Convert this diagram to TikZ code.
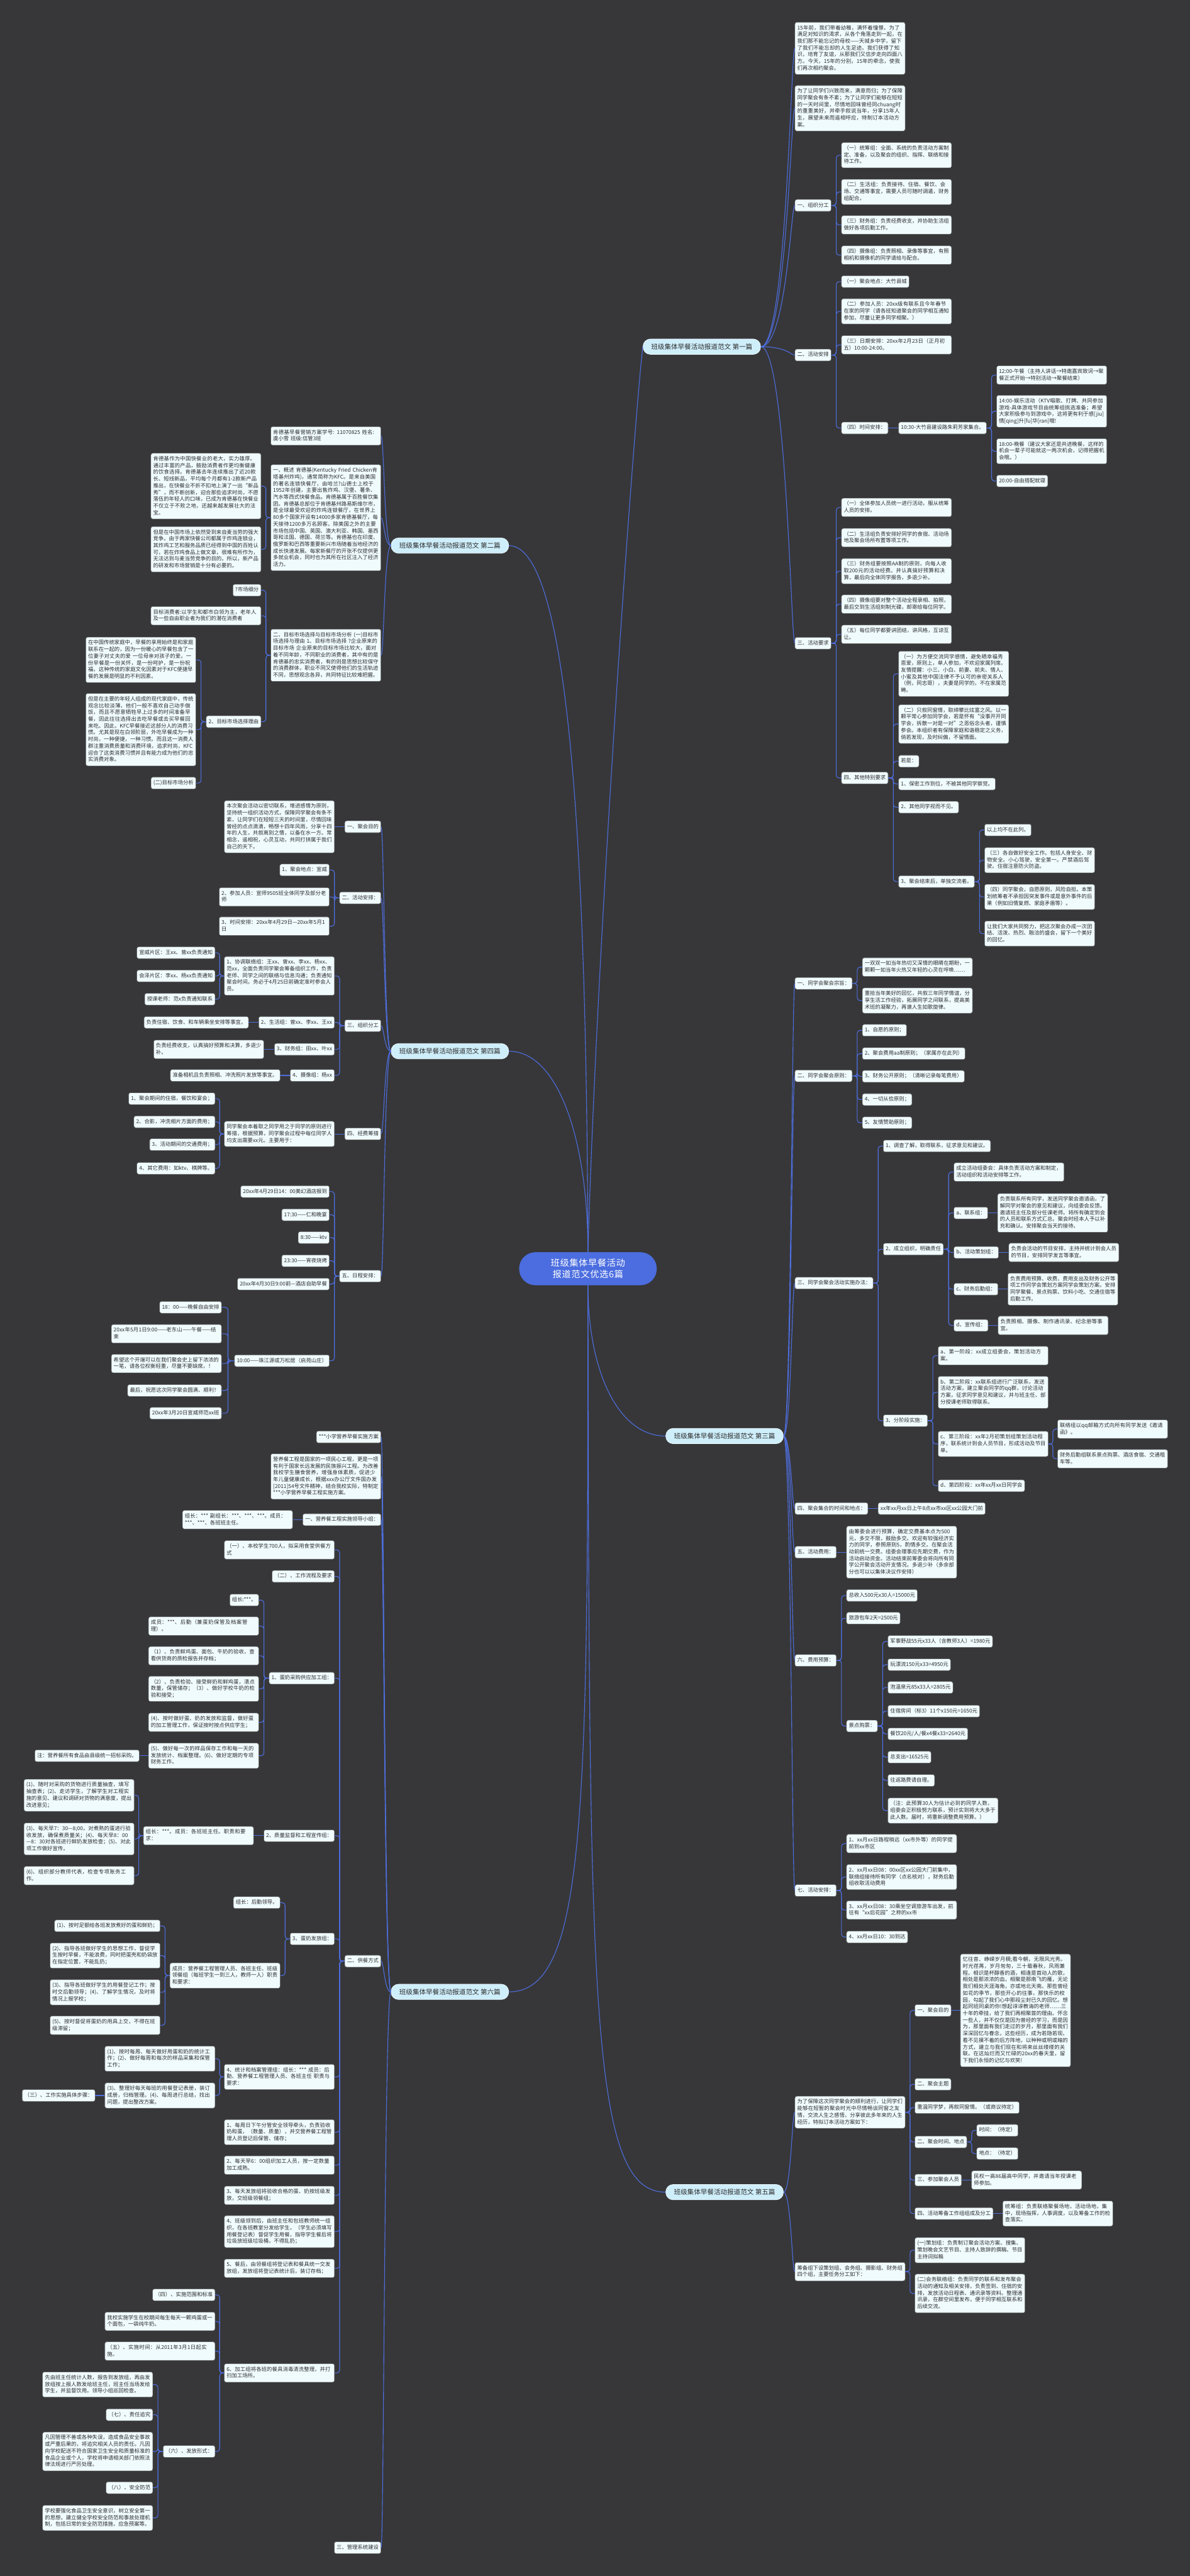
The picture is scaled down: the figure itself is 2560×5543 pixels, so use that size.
\documentclass[tikz,border=0pt]{standalone}
\usepackage{fontspec}
\setmainfont{Noto Sans CJK SC}
\usetikzlibrary{calc}
\XeTeXlinebreaklocale "zh"
\XeTeXlinebreakskip=0pt plus 1pt
\definecolor{bgc}{RGB}{55,55,57}
\definecolor{leafc}{RGB}{240,251,254}
\definecolor{leafd}{RGB}{95,95,95}
\definecolor{txt}{RGB}{45,45,45}
\definecolor{linkc}{RGB}{78,110,222}
\definecolor{mainf}{RGB}{206,238,250}
\definecolor{rootc}{RGB}{75,109,224}
\newcommand\lf{\fontsize{11.3}{14.5}\selectfont}
\newcommand\sth{\rule{0pt}{10pt}}
\newcommand\std{\rule[-3.5pt]{0pt}{3.5pt}}
\tikzset{
 leaf/.style={draw=leafd, line width=0.8pt, fill=leafc, rounded corners=4pt, inner xsep=5pt, inner ysep=6pt, text=txt, font=\lf, align=left, execute at begin node=\sth, execute at end node=\std},
 rn/.style={leaf, anchor=west},
 ln/.style={leaf, anchor=east},
 wd/.style={text width=227pt},
 pill/.style={fill=mainf, draw=white!60!mainf, line width=1pt, rounded corners=16pt, minimum height=33pt, minimum width=253pt, inner sep=0pt, text=txt, font=\fontsize{14.3}{17}\selectfont},
 rootn/.style={fill=rootc, rounded corners=35pt, minimum width=296pt, minimum height=71pt, text width=222pt, align=center, text=white, font=\fontsize{19.3}{24}\selectfont},
 link/.style={draw=linkc, line width=1.5pt, rounded corners=6pt},
}
\newcommand\linkR[2]{\draw[link] (#1.east) -| ($(#1.east)!0.5!(#2.west)$) |- (#2.west);}
\newcommand\linkL[2]{\draw[link] (#1.west) -| ($(#1.west)!0.5!(#2.east)$) |- (#2.east);}
\newcommand\linkS[2]{\draw[link] (#1.east) -- (#2.west);}
\newcommand\linkSL[2]{\draw[link] (#1.west) -- (#2.east);}
\newcommand\curveR[4]{\draw[link] (#1.east) .. controls +(#3,0) and +(-#4,0) .. (#2.west);}
\newcommand\curveL[4]{\draw[link] (#1.west) .. controls +(-#3,0) and +(#4,0) .. (#2.east);}
\begin{document}
\begin{tikzpicture}[x=1pt,y=1pt]
\fill[bgc] (0,0) rectangle (2560,-5543);
\useasboundingbox (0,0) rectangle (2560,-5543);

% ---------- root and main branches ----------
\node[rootn] (root) at (1265,-2730) {班级集体早餐活动报道范文优选6篇};
\node[pill] (p1) at (1510,-746) {班级集体早餐活动报道范文 第一篇};
\node[pill] (p2) at (968,-1174) {班级集体早餐活动报道范文 第二篇};
\node[pill] (p3) at (1559,-3090) {班级集体早餐活动报道范文 第三篇};
\node[pill] (p4) at (968,-2262) {班级集体早餐活动报道范文 第四篇};
\node[pill] (p5) at (1559,-4717) {班级集体早餐活动报道范文 第五篇};
\node[pill] (p6) at (968,-4286) {班级集体早餐活动报道范文 第六篇};

% ---------- 第一篇 ----------
\node[rn,wd] (a1) at (1710,-104) {15年前，我们带着幼稚，满怀着憧憬，为了满足对知识的渴求，从各个角落走到一起，在我们那不能忘记的母校——天城乡中学，留下了我们不能忘却的人生足迹。我们获得了知识，培育了友谊，从那我们又信步走向四面八方。今天，15年的分别，15年的牵念，使我们再次相约聚会。};
\node[rn,wd] (a2) at (1710,-233) {为了让同学们兴致而来，满意而归；为了保障同学聚会有条不紊；为了让同学们能够在短短的一天时间里，尽情地回味曾经同chuang时的重重美好，并牵手叙说当年，分享15年人生，展望未来而遥相呼应，特制订本活动方案。};
\node[rn] (a3) at (1710,-442) {一、组织分工};
\node[rn,wd] (a31) at (1810,-334) {（一）统筹组：全面、系统的负责活动方案制定、准备，以及聚会的组织、指挥、联络和接待工作。};
\node[rn,wd] (a32) at (1810,-413) {（二）生活组：负责接待、住宿、餐饮、会场、交通等事宜，需要人员可随时调遣，财务组配合。};
\node[rn,wd] (a33) at (1810,-484) {（三）财务组：负责经费收支，并协助生活组做好各项后勤工作。};
\node[rn,wd] (a34) at (1810,-549) {（四）摄像组：负责照相、录像等事宜，有照相机和摄像机的同学请给与配合。};
\node[rn] (a4) at (1710,-764) {二、活动安排};
\node[rn] (a41) at (1810,-606) {（一）聚会地点：大竹县城};
\node[rn,wd] (a42) at (1810,-670) {（二）参加人员：20xx级有联系且今年春节在家的同学（请各班知道聚会的同学相互通知参加，尽量让更多同学相聚。）};
\node[rn,wd] (a43) at (1810,-742) {（三）日期安排：20xx年2月23日（正月初五）10:00-24:00。};
\node[rn] (a44) at (1810,-921) {（四）时间安排：};
\node[rn] (a45) at (1933,-921) {10:30-大竹县建设路朱莉芳家集合。};
\node[rn,wd] (a451) at (2144,-807) {12:00-午餐（主持人讲话→特邀嘉宾致词→聚餐正式开始→特别活动→聚餐结束）};
\node[rn,wd] (a452) at (2144,-885) {14:00-娱乐活动（KTV唱歌、打牌、共同参加游戏-具体游戏节目由统筹组挑选准备；希望大家积极参与到游戏中，这将更有利于感[jiu]情[qing]升[fu]华[ran]哦!};
\node[rn,wd] (a453) at (2144,-971) {18:00-晚餐（建议大家还是共进晚餐，这样的机会一辈子可能就这一两次机会，记得把握机会哦。）};
\node[rn] (a454) at (2144,-1035) {20:00-自由搭配就寝};
\node[rn] (a5) at (1710,-1384) {三、活动要求};
\node[rn,wd] (a51) at (1810,-1092) {（一）全体参加人员统一进行活动，服从统筹人员的安排。};
\node[rn,wd] (a52) at (1810,-1157) {（二）生活组负责安排好同学的食宿、活动场地及聚会场所布置等项工作。};
\node[rn,wd] (a53) at (1810,-1229) {（三）财务组要按照AA制的原则，向每人收取200元的活动经费。并认真搞好预算和决算，最后向全体同学报告，多退少补。};
\node[rn,wd] (a54) at (1810,-1300) {（四）摄像组要对整个活动全程录相、拍照，最后交到生活组刻制光碟，邮寄给每位同学。};
\node[rn,wd] (a55) at (1810,-1365) {（五）每位同学都要讲团结，讲风格，互谅互让。};
\node[rn] (a56) at (1810,-1674) {四、其他特别要求};
\node[rn,wd] (a561) at (1933,-1450) {（一）为方便交流同学感情，避免晒幸福秀恩爱，原则上，单人参加，不欢迎家属列席。友情提醒：小三、小白、前妻、前夫、情人、小蜜及其他中国法律不予认可的亲密关系人（例，同志哥），夫妻是同学的，不在家属范畴。};
\node[rn,wd] (a562) at (1933,-1558) {（二）只叙同窗情，取缔攀比炫富之风。以一颗平常心参加同学会，若是怀有“没事开开同学会，拆散一对是一对”之恶俗念头者，谨慎参会。本组织者有保障家庭和谐稳定之义务，倘若发现，及时纠偏，不留情面。};
\node[rn] (a563) at (1933,-1638) {若是：};
\node[rn] (a564) at (1933,-1687) {1、保密工作到位，不被其他同学察觉。};
\node[rn] (a565) at (1933,-1737) {2、其他同学视而不见。};
\node[rn] (a566) at (1933,-1897) {3、聚会结束后，单独交流者。};
\node[rn] (a5661) at (2118,-1786) {以上均不在此列。};
\node[rn,wd] (a5662) at (2118,-1851) {（三）各自做好安全工作。包括人身安全、财物安全。小心驾驶，安全第一。严禁酒后驾驶。住宿注意防火防盗。};
\node[rn,wd] (a5663) at (2118,-1930) {（四）同学聚会，自愿原则，风险自担。本策划统筹者不承担因突发事件或是意外事件的后果（例如旧情复燃、家庭矛盾等）。};
\node[rn,wd] (a5664) at (2118,-2009) {让我们大家共同努力，把这次聚会办成一次团结、活泼、热烈、融洽的盛会，留下一个美好的回忆。};

% ---------- 第三篇 ----------
\node[rn] (b1) at (1710,-2116) {一、同学会聚会宗旨：};
\node[rn,wd] (b11) at (1855,-2081) {一双双一如当年热切又深情的眼睛在期盼，一颗颗一如当年火热又年轻的心灵在呼唤……};
\node[rn,wd] (b12) at (1855,-2153) {重拾当年美好的回忆，共叙三年同学情谊，分享生活工作经验，拓展同学之间联系，提高美术班的凝聚力，再谱人生如歌旋律。};
\node[rn] (b2) at (1710,-2315) {二、同学会聚会原则：};
\node[rn] (b21) at (1855,-2217) {1、自愿的原则；};
\node[rn] (b22) at (1855,-2267) {2、聚会费用aa制原则；（家属亦在此列）};
\node[rn] (b23) at (1855,-2316) {3、财务公开原则；（清晰记录每笔费用）};
\node[rn] (b24) at (1855,-2366) {4、一切从俭原则；};
\node[rn] (b25) at (1855,-2416) {5、友情赞助原则；};
\node[rn] (b3) at (1710,-2761) {三、同学会聚会活动实施办法：};
\node[rn] (b31) at (1900,-2466) {1、调查了解，取得联系，征求意见和建议。};
\node[rn] (b32) at (1900,-2688) {2、成立组织，明确责任};
\node[rn,wd] (b321) at (2052,-2522) {成立活动组委会：具体负责活动方案和制定，活动组织和活动安排等工作。};
\node[rn] (b322) at (2052,-2610) {a、联系组：};
\node[rn,wd] (b3221) at (2146,-2610) {负责联系所有同学，发送同学聚会邀请函，了解同学对聚会的意见和建议，向组委会反馈。邀请班主任及部分任课老师。将所有确定到会的人员和联系方式汇总。聚会时经本人予以补充和确认。安排聚会当天的接待。};
\node[rn] (b323) at (2052,-2695) {b、活动策划组：};
\node[rn,wd] (b3231) at (2170,-2695) {负责会活动的节目安排，主持并统计到会人员的节目，安排同学发言等事宜。};
\node[rn] (b324) at (2052,-2774) {c、财务后勤组：};
\node[rn,wd] (b3241) at (2168,-2774) {负责费用预算、收费、费用支出及财务公开等项工作同学会策划方案同学会策划方案。安排同学聚餐、景点购票、饮料小吃、交通住宿等后勤工作。};
\node[rn] (b325) at (2052,-2852) {d、宣传组：};
\node[rn,wd] (b3251) at (2147,-2852) {负责照相、摄像、制作通讯录、纪念册等事宜。};
\node[rn] (b33) at (1900,-3057) {3、分阶段实施：};
\node[rn,wd] (b331) at (2018,-2917) {a、第一阶段：xx成立组委会，策划活动方案。};
\node[rn,wd] (b332) at (2018,-2996) {b、第二阶段：xx联系组进行广泛联系，发送活动方案，建立聚会同学的qq群，讨论活动方案，征求同学意见和建议，并与班主任、部分授课老师取得联系。};
\node[rn,wd] (b333) at (2018,-3107) {c、第三阶段：xx年2月初策划组策划活动程序，联系统计到会人员节目，形成活动及节目单。};
\node[rn,wd] (b3331) at (2275,-3075) {联络组以qq邮箱方式向所有同学发送《邀请函》。};
\node[rn,wd] (b3332) at (2275,-3139) {财务后勤组联系景点购票、酒店食宿、交通租车等。};
\node[rn] (b334) at (2018,-3197) {d、第四阶段：xx年xx月xx日同学会};
\node[rn] (b4) at (1710,-3246) {四、聚会集合的时间和地点：};
\node[rn] (b41) at (1889,-3246) {xx年xx月xx日上午8点xx市xx区xx公园大门前};
\node[rn] (b5) at (1710,-3340) {五、活动费用：};
\node[rn,wd] (b51) at (1821,-3340) {由筹委会进行预算，确定交费基本点为500元，多交不限，鼓励多交。欢迎有较强经济实力的同学，参照原则5，酌情多交。在聚会活动前统一交费。组委会理事应先期交费，作为活动启动资金。活动结束前筹委会将向所有同学公开聚会活动开支情况。多退少补（多余部分也可以以集体决议作安排）};
\node[rn] (b6) at (1710,-3573) {六、费用预算：};
\node[rn] (b61) at (1821,-3433) {总收入500元x30人=15000元};
\node[rn] (b62) at (1821,-3482) {旅游包车2天=2500元};
\node[rn] (b63) at (1821,-3714) {景点购票：};
\node[rn] (b631) at (1910,-3532) {军事野战55元x33人（含教师3人）=1980元};
\node[rn] (b632) at (1910,-3582) {玩漂流150元x33=4950元};
\node[rn] (b633) at (1910,-3631) {泡温泉元85x33人=2805元};
\node[rn] (b634) at (1910,-3682) {住宿房间（标3）11个x150元=1650元};
\node[rn] (b635) at (1910,-3731) {餐饮20元/人/餐x4餐x33=2640元};
\node[rn] (b636) at (1910,-3781) {总支出=16525元};
\node[rn] (b637) at (1910,-3831) {往返路费请自理。};
\node[rn,wd] (b638) at (1910,-3896) {（注：此预算30人为估计必到的同学人数，组委会正积极努力联系，预计实到将大大多于此人数。届时，将重新调整费用预算。）};
\node[rn] (b7) at (1710,-4068) {七、活动安排：};
\node[rn,wd] (b71) at (1821,-3967) {1、xx月xx日路程稍远（xx市外等）的同学提前到xx市区};
\node[rn,wd] (b72) at (1821,-4039) {2、xx月xx日08：00xx区xx公园大门前集中，联络组接待所有同学（点名核对），财务后勤组收取活动费用};
\node[rn,wd] (b73) at (1821,-4110) {3、xx月xx日08：30乘坐空调旅游车出发，前往有“xx后花园”之称的xx市};
\node[rn] (b74) at (1821,-4168) {4、xx月xx日10：30到达};

% ---------- 第五篇 ----------
\node[rn,wd] (c1) at (1710,-4545) {为了保障这次同学聚会的顺利进行，让同学们能够在短暂的聚会时光中尽情畅谈同窗之友情，交流人生之感悟，分享彼此多年来的人生经历，特拟订本活动方案如下：};
\node[rn] (c11) at (1968,-4326) {一、聚会目的};
\node[rn,wd] (c111) at (2066,-4326) {忆往昔、峥嵘岁月稠;看今朝，无限风光秀。时光荏苒，岁月匆匆，三十载春秋，风雨兼程。相识是杯醇香的酒，相逢是首动人的歌，相处是那浓浓的血，相聚是那南飞的雁，无论我们相处天涯海角，亦或地北天南。那些曾经如花的季节，那些开心的往事，那快乐的校园，勾起了我们心中那段尘封已久的回忆。想起同班同桌的你!想起谆谆教诲的老师……三十年的牵挂，给了我们再相聚首的理由。怀念一些人，并不仅仅是因为曾经的学习，而是因为，那里面有我们走过的岁月，那里面有我们深深回忆与眷念，这些经历，成为若隐若现、看不见摸不着的后方阵地，以种种或明或暗的方式，建立与我们现在和将来丝丝缕缕的关联。在这灿烂而又忙碌的20xx的春天里，留下我们永恒的记忆与欢笑!};
\node[rn] (c12) at (1968,-4485) {二、聚会主题};
\node[rn] (c13) at (1968,-4535) {重温同学梦，再叙同窗情。（或商议待定）};
\node[rn] (c14) at (1968,-4609) {二、聚会时间、地点};
\node[rn] (c141) at (2101,-4584) {时间：（待定）};
\node[rn] (c142) at (2101,-4634) {地点：（待定）};
\node[rn] (c15) at (1968,-4691) {三、参加聚会人员};
\node[rn,wd] (c151) at (2090,-4691) {民权一高86届高中同学，并邀请当年授课老师参加。};
\node[rn] (c16) at (1968,-4763) {四、活动筹备工作组组成及分工};
\node[rn,wd] (c161) at (2157,-4763) {统筹组：负责联络聚餐场地，活动场地，集中，现场指挥，人事调度，以及筹备工作的检查落实。};
\node[rn,wd] (c2) at (1710,-4888) {筹备组下设策划组、会务组、摄影组、财务组四个组，主要任务分工如下：};
\node[rn,wd] (c21) at (1968,-4842) {(一)策划组：负责制订聚会活动方案、搜集、策划晚会文艺节目、主持人致辞的撰稿、节目主持词拟稿};
\node[rn,wd] (c22) at (1968,-4935) {(二)会务联络组：负责同学的联系和发布聚会活动的通知及相关安排，负责签到、住宿的安排，发放活动日程表、通讯录等资料。整理通讯录，在群空间里发布，便于同学相互联系和后续交流。};

% ---------- 第二篇 ----------
\node[ln,wd] (d1) at (820,-938) {肯德基早餐营销方案学号: 11070825 姓名: 虞小雪 班级:信管3班};
\node[ln,wd] (d2) at (820,-1114) {一、概述 肯德基(Kentucky Fried Chicken肯塔基州炸鸡)，通常简称为KFC。是来自美国的著名连锁快餐厅，由哈兰?山德士上校于1952年创建，主要出售炸鸡、汉堡、薯条、汽水等西式快餐食品。肯德基属于百胜餐饮集团。肯德基总部位于肯德基州路易斯维尔市，是全球最受欢迎的炸鸡连锁餐厅，在世界上80多个国家开设有14000多家肯德基餐厅，每天接待1200多万名顾客。除美国之外的主要市场包括中国、英国、澳大利亚、韩国、墨西哥和法国、德国、荷兰等。肯德基也在印度、俄罗斯和巴西等重要新兴市场随着当地经济的成长快速发展。每家新餐厅的开张不仅提供更多就业机会，同时也为其所在社区注入了经济活力。};
\node[ln,wd] (d21) at (562,-1046) {肯德基作为中国快餐业的老大，实力雄厚。通过丰富的产品，鼓励消费者作更均衡健康的饮食选择。肯德基去年连续推出了近20款长、短线新品，平均每个月都有1-2款新产品推出，在快餐业不折不扣地上演了一出“新品秀”，而不断创新，迎合那些追求时尚，不愿落伍的年轻人的口味，已成为肯德基在快餐业不仅立于不败之地，还越来越发展壮大的法宝。};
\node[ln,wd] (d22) at (562,-1182) {但是在中国市场上依然受到来自麦当劳的强大竞争。由于两家快餐公司都属于炸鸡连锁业，其炸鸡工艺和服务品质已经得到中国的百姓认可，若在炸鸡食品上做文章，很难有所作为，无法达到与麦当劳竞争的目的。所以，新产品的研发和市场营销是十分有必要的。};
\node[ln,wd] (d3) at (820,-1410) {二、目标市场选择与目标市场分析 (一)目标市场选择与理由 1、目标市场选择 ?企业原来的目标市场 企业原来的目标市场比较大，面对着不同年龄，不同职业的消费者，其中有的是肯德基的忠实消费者，有的则是思想比较保守的消费群体，职业不同又使得他们的生活轨迹不同，思想观念各异，共同特征比较难把握。};
\node[ln] (d31) at (562,-1270) {?市场细分};
\node[ln,wd] (d32) at (562,-1325) {目标消费者:以学生和都市白领为主，老年人及一些自由职业者为我们的潜在消费者};
\node[ln] (d33) at (562,-1553) {2、目标市场选择理由};
\node[ln,wd] (d331) at (422,-1420) {在中国传统家庭中，早餐的享用始终是和家庭联系在一起的，因为一份暖心的早餐包含了一位妻子对丈夫的爱 一位母亲对孩子的爱。一份早餐是一份关怀，是一份呵护，是一份祝福，这种传统的家庭文化因素对于KFC便捷早餐的发展是明显的不利因素。};
\node[ln,wd] (d332) at (422,-1570) {但是在主要的年轻人组成的现代家庭中，传统观念比较淡薄，他们一般不喜欢自己动手做饭，而且不愿意牺牲早上过多的时间准备早餐，因此往往选择出去吃早餐或去买早餐回来吃。因此，KFC早餐接近这部分人的消费习惯。尤其是现在白领阶层，外吃早餐成为一种时尚，一种便捷，一种习惯。而且这一消费人群注重消费质量和消费环境，追求时尚，KFC迎合了这类消费习惯并且有能力成为他们的忠实消费对象。};
\node[ln] (d333) at (422,-1685) {(二)目标市场分析};

% ---------- 第四篇 ----------
\node[ln] (e1) at (820,-1779) {一、聚会目的};
\node[ln,wd] (e11) at (720,-1779) {本次聚会活动以密切联系，增进感情为原则，坚持统一组织活动方式，保障同学聚会有条不紊，让同学们在短短三天的时间里，尽情回味曾经的点点滴滴，畅想十四年风雨，分享十四年的人生，共叙离别之情，以备在水一方。常相念，遥相祝，心灵互动，共同打拼属于我们自己的天下。};
\node[ln] (e2) at (820,-1932) {二、活动安排：};
\node[ln] (e21) at (709,-1872) {1、聚会地点：宣威};
\node[ln,wd] (e22) at (709,-1930) {2、参加人员：宣师9505班全体同学及部分老师};
\node[ln,wd] (e23) at (709,-1993) {3、时间安排：20xx年4月29日—20xx年5月1日};
\node[ln] (e3) at (820,-2207) {三、组织分工};
\node[ln,wd] (e31) at (720,-2100) {1、协调联络组：王xx、曾xx、李xx、杨xx、范xx，全面负责同学聚会筹备组织工作，负责老师、同学之间的联络与信息沟通；负责通知聚会时间。务必于4月25日前确定准时参会人员。};
\node[ln] (e311) at (463,-2050) {宣威片区：王xx、曾xx负责通知};
\node[ln] (e312) at (463,-2100) {会泽片区：李xx、杨xx负责通知};
\node[ln] (e313) at (463,-2150) {授课老师：范x负责通知联系};
\node[ln] (e32) at (720,-2200) {2、生活组：曾xx、李xx、王xx};
\node[ln] (e321) at (535,-2200) {负责住宿、饮食、和车辆乘坐安排等事宜。};
\node[ln] (e33) at (720,-2258) {3、财务组：田xx、叶xx};
\node[ln,wd] (e331) at (568,-2258) {负责经费收支，认真搞好预算和决算，多退少补。};
\node[ln] (e34) at (720,-2314) {4、摄像组：杨xx};
\node[ln] (e341) at (603,-2314) {准备相机且负责照相、冲洗照片发放等事宜。};
\node[ln] (e4) at (820,-2440) {四、经费筹措};
\node[ln,wd] (e41) at (720,-2440) {同学聚会本着取之同学用之于同学的原则进行筹措，根据预算，同学聚会过程中每位同学人均支出需要xx元。主要用于：};
\node[ln] (e411) at (463,-2364) {1、聚会期间的住宿，餐饮和宴会；};
\node[ln] (e412) at (463,-2414) {2、合影，冲洗相片方面的费用；};
\node[ln] (e413) at (463,-2463) {3、活动期间的交通费用；};
\node[ln] (e414) at (463,-2514) {4、其它费用：如ktv、棋牌等。};
\node[ln] (e5) at (820,-2746) {五、日程安排：};
\node[ln] (e51) at (709,-2564) {20xx年4月29日14：00美幻酒店报到};
\node[ln] (e52) at (709,-2614) {17:30——仁和晚宴};
\node[ln] (e53) at (709,-2663) {8:30——ktv};
\node[ln] (e54) at (709,-2713) {23:30——宵夜烧烤};
\node[ln] (e55) at (709,-2763) {20xx年4月30日9:00前—酒店自助早餐};
\node[ln] (e56) at (709,-2928) {10:00——珠江源或万松居（启苑山庄）};
\node[ln] (e561) at (477,-2813) {18：00——晚餐自由安排};
\node[ln,wd] (e562) at (477,-2870) {20xx年5月1日9:00——老东山——午餐——结束};
\node[ln,wd] (e563) at (477,-2934) {希望这个开端可以在我们聚会史上留下浓浓的一笔，请各位权衡轻重，尽量不要缺席，！};
\node[ln] (e564) at (477,-2992) {最后，祝愿这次同学聚会圆满、顺利！};
\node[ln] (e565) at (477,-3041) {20xx年3月20日宣威师范xx班};

% ---------- 第六篇 ----------
\node[ln] (f1) at (820,-3092) {***小学营养早餐实施方案};
\node[ln,wd] (f2) at (820,-3177) {营养餐工程是国家的一项民心工程，更是一项有利于国家长远发展的民族振兴工程。为改善我校学生膳食营养，增强身体素质，促进少年儿童健康成长，根据xxx办公厅文件国办发[2011]54号文件精神，结合我校实际，特制定***小学营养早餐工程实施方案。};
\node[ln] (f3) at (820,-3270) {一、营养餐工程实施领导小组：};
\node[ln,wd] (f31) at (630,-3270) {组长：*** 副组长：***、***、***。成员：***、***、各班班主任。};
\node[ln] (f4) at (820,-4220) {二、供餐方式};
\node[ln,wd] (f41) at (720,-3335) {（一）、本校学生700人，拟采用食堂供餐方式};
\node[ln] (f42) at (720,-3392) {（二）、工作流程及要求};
\node[ln] (f43) at (720,-3611) {1、蛋奶采购供应加工组：};
\node[ln] (f431) at (557,-3443) {组长:***。};
\node[ln,wd] (f432) at (557,-3499) {成员：***、后勤（兼蛋奶保管及档案管理）。};
\node[ln,wd] (f433) at (557,-3563) {（1）、负责鲜鸡蛋、面包、牛奶的验收，查看供货商的质检报告并存档；};
\node[ln,wd] (f434) at (557,-3634) {（2）、负责检验、接受鲜奶和鲜鸡蛋，清点数量，保管储存；（3）、做好学校牛奶的检验和接受；};
\node[ln,wd] (f435) at (557,-3706) {(4)、按时做好蛋、奶的发放和监督，做好蛋的加工管理工作，保证按时按点供应学生；};
\node[ln,wd] (f436) at (557,-3778) {(5)、做好每一次的样品保存工作和每一天的发放统计、档案整理。(6)、做好定期的专项财务工作。};
\node[ln] (f4361) at (300,-3778) {注：营养餐所有食品由县级统一招标采购。};
\node[ln] (f44) at (720,-3950) {2、质量监督和工程宣传组：};
\node[ln,wd] (f441) at (546,-3950) {组长：***。成员：各班班主任。职责和要求：};
\node[ln,wd] (f4411) at (289,-3863) {(1)、随时对采购的货物进行质量抽查，填写抽查表；(2)、走访学生，了解学生对工程实施的意见、建议和调研对货物的满意度，提出改进意见；};
\node[ln,wd] (f4412) at (289,-3957) {(3)、每天早7：30—8;00，对煮熟的蛋进行验收发放，确保煮质量关；(4)、每天早8：00—8：30对各班进行鲜奶发放检查；(5)、对此项工作做好宣传。};
\node[ln,wd] (f4413) at (289,-4036) {(6)、组织部分教师代表，检查专项账务工作。};
\node[ln] (f45) at (720,-4172) {3、蛋奶发放组：};
\node[ln] (f451) at (603,-4094) {组长：后勤领导。};
\node[ln,wd] (f452) at (603,-4251) {成员：营养餐工程管理人员、各班主任、班级领餐组（每班学生一到三人，教师一人）职责和要求：};
\node[ln] (f4521) at (345,-4144) {(1)、按时足额给各班发放煮好的蛋和鲜奶；};
\node[ln,wd] (f4522) at (345,-4208) {(2)、指导各班做好学生的思想工作，督促学生按时早餐，不能浪费，同时把蛋壳和奶袋放在指定位置，不能乱扔；};
\node[ln,wd] (f4523) at (345,-4287) {(3)、指导各班做好学生的用餐登记工作；按时交后勤领导；(4)、了解学生情况，及时将情况上报学校；};
\node[ln,wd] (f4524) at (345,-4358) {(5)、按时督促将蛋奶的用具上交，不得在班级滞留；};
\node[ln,wd] (f46) at (720,-4469) {4、统计和档案管理组：组长：*** 成员：后勤、营养餐工程管理人员、各班主任 职责与要求：};
\node[ln,wd] (f461) at (463,-4430) {(1)、按时每周、每天做好用蛋和奶的统计工作；(2)、做好每周和每次的样品采集和保管工作；};
\node[ln,wd] (f462) at (463,-4509) {(3)、整理好每天每班的用餐登记表册，装订成册，归档管理。(4)、每周进行总结，找出问题，提出整改方案。};
\node[ln] (f4621) at (205,-4509) {（三）、工作实施具体步骤：};
\node[ln,wd] (f47) at (720,-4588) {1、每周日下午分管安全领导牵头，负责验收奶和蛋，（数量、质量），并交营养餐工程管理人员登记后保管、储存；};
\node[ln,wd] (f48) at (720,-4659) {2、每天早6：00组织加工人员，按一定数量加工成熟。};
\node[ln,wd] (f49) at (720,-4724) {3、每天发放组将验收合格的蛋、奶按班级发放，交班级领餐组；};
\node[ln,wd] (f4a) at (720,-4802) {4、班级领到后，由班主任和包班教师统一组织，在各班教室分发给学生，（学生必须填写用餐登记表）督促学生用餐，指导学生餐后将垃圾放班级垃圾桶，不得乱扔；};
\node[ln,wd] (f4b) at (720,-4881) {5、餐后，由领餐组将登记表和餐具统一交发放组，发放组将登记表统计后，装订存档；};
\node[ln,wd] (f4c) at (720,-5106) {6、加工组将各班的餐具消毒清洗整理，并打扫加工场所。};
\node[ln] (f4c1) at (463,-4938) {（四）、实施范围和标准};
\node[ln,wd] (f4c2) at (463,-4995) {我校实施学生在校期间每生每天一颗鸡蛋或一个面包，一袋纯牛奶。};
\node[ln,wd] (f4c3) at (463,-5059) {（五）、实施时间：从2011年3月1日起实施。};
\node[ln] (f4c4) at (463,-5275) {（六）、发放形式：};
\node[ln,wd] (f4c41) at (329,-5131) {先由班主任统计人数，报告到发放组，再由发放组按上报人数发给班主任，班主任当场发给学生，并监督饮用。领导小组巡回检查。};
\node[ln] (f4c42) at (329,-5196) {（七）、责任追究};
\node[ln,wd] (f4c43) at (329,-5275) {凡因管理不善或各种失误，造成食品安全事故或严重后果的，将追究相关人员的责任。凡因向学校配送不符合国家卫生安全和质量标准的食品企业或个人，学校将申请相关部门依照法律法规进行严厉处理。};
\node[ln] (f4c44) at (329,-5353) {（八）、安全防范};
\node[ln,wd] (f4c45) at (329,-5418) {学校要强化食品卫生安全意识，树立安全第一的思想，建立健全学校安全防范和事故处理机制，包括日常的安全防范措施，应急预案等。};
\node[ln] (f5) at (820,-5482) {三、管理系统建设};

% ---------- connectors: root ----------
\draw[link] (root.north) .. controls (1285,-2000) and (1365,-900) .. (p1.west);
\draw[link] (root.north) .. controls (1262,-2000) and (1240,-1174) .. (p2.east);
\draw[link] (root.north) .. controls (1265,-2450) and (1200,-2262) .. (p4.east);
\draw[link] (root.south) .. controls (1265,-2950) and (1330,-3090) .. (p3.west);
\draw[link] (root.south) .. controls (1265,-3900) and (1262,-4286) .. (p6.east);
\draw[link] (root.south) .. controls (1268,-4300) and (1268,-4717) .. (p5.west);

% ---------- connectors: 第一篇 ----------
\foreach \c in {a1,a2,a3,a4,a5} {\curveR{p1}{\c}{55}{8}}
\foreach \c in {a31,a32,a33,a34} {\linkR{a3}{\c}}
\foreach \c in {a41,a42,a43,a44} {\linkR{a4}{\c}}
\linkS{a44}{a45}
\foreach \c in {a451,a452,a453,a454} {\linkR{a45}{\c}}
\foreach \c in {a51,a52,a53,a54,a55,a56} {\linkR{a5}{\c}}
\foreach \c in {a561,a562,a563,a564,a565,a566} {\linkR{a56}{\c}}
\foreach \c in {a5661,a5662,a5663,a5664} {\linkR{a566}{\c}}

% ---------- connectors: 第三篇 ----------
\foreach \c in {b1,b2,b3,b4,b5,b6,b7} {\curveR{p3}{\c}{16}{6}}
\foreach \c in {b11,b12} {\linkR{b1}{\c}}
\foreach \c in {b21,b22,b23,b24,b25} {\linkR{b2}{\c}}
\foreach \c in {b31,b32,b33} {\linkR{b3}{\c}}
\foreach \c in {b321,b322,b323,b324,b325} {\linkR{b32}{\c}}
\linkS{b322}{b3221}
\linkS{b323}{b3231}
\linkS{b324}{b3241}
\linkS{b325}{b3251}
\foreach \c in {b331,b332,b333,b334} {\linkR{b33}{\c}}
\foreach \c in {b3331,b3332} {\linkR{b333}{\c}}
\linkS{b4}{b41}
\linkS{b5}{b51}
\foreach \c in {b61,b62,b63} {\linkR{b6}{\c}}
\foreach \c in {b631,b632,b633,b634,b635,b636,b637,b638} {\linkR{b63}{\c}}
\foreach \c in {b71,b72,b73,b74} {\linkR{b7}{\c}}

% ---------- connectors: 第五篇 ----------
\foreach \c in {c1,c2} {\curveR{p5}{\c}{16}{6}}
\foreach \c in {c11,c12,c13,c14,c15,c16} {\linkR{c1}{\c}}
\linkS{c11}{c111}
\foreach \c in {c141,c142} {\linkR{c14}{\c}}
\linkS{c15}{c151}
\linkS{c16}{c161}
\foreach \c in {c21,c22} {\linkR{c2}{\c}}

% ---------- connectors: 第二篇 ----------
\foreach \c in {d1,d2,d3} {\curveL{p2}{\c}{14}{6}}
\foreach \c in {d21,d22} {\linkL{d2}{\c}}
\foreach \c in {d31,d32,d33} {\linkL{d3}{\c}}
\foreach \c in {d331,d332,d333} {\linkL{d33}{\c}}

% ---------- connectors: 第四篇 ----------
\foreach \c in {e1,e2,e3,e4,e5} {\curveL{p4}{\c}{14}{6}}
\linkSL{e1}{e11}
\foreach \c in {e21,e22,e23} {\linkL{e2}{\c}}
\foreach \c in {e31,e32,e33,e34} {\linkL{e3}{\c}}
\foreach \c in {e311,e312,e313} {\linkL{e31}{\c}}
\linkSL{e32}{e321}
\linkSL{e33}{e331}
\linkSL{e34}{e341}
\linkSL{e4}{e41}
\foreach \c in {e411,e412,e413,e414} {\linkL{e41}{\c}}
\foreach \c in {e51,e52,e53,e54,e55,e56} {\linkL{e5}{\c}}
\foreach \c in {e561,e562,e563,e564,e565} {\linkL{e56}{\c}}

% ---------- connectors: 第六篇 ----------
\foreach \c in {f1,f2,f3,f4,f5} {\curveL{p6}{\c}{14}{6}}
\linkSL{f3}{f31}
\foreach \c in {f41,f42,f43,f44,f45,f46,f47,f48,f49,f4a,f4b,f4c} {\linkL{f4}{\c}}
\foreach \c in {f431,f432,f433,f434,f435,f436} {\linkL{f43}{\c}}
\linkSL{f436}{f4361}
\linkSL{f44}{f441}
\foreach \c in {f4411,f4412,f4413} {\linkL{f441}{\c}}
\foreach \c in {f451,f452} {\linkL{f45}{\c}}
\foreach \c in {f4521,f4522,f4523,f4524} {\linkL{f452}{\c}}
\foreach \c in {f461,f462} {\linkL{f46}{\c}}
\linkSL{f462}{f4621}
\foreach \c in {f4c1,f4c2,f4c3,f4c4} {\linkL{f4c}{\c}}
\foreach \c in {f4c41,f4c42,f4c43,f4c44,f4c45} {\linkL{f4c4}{\c}}
\end{tikzpicture}
\end{document}
